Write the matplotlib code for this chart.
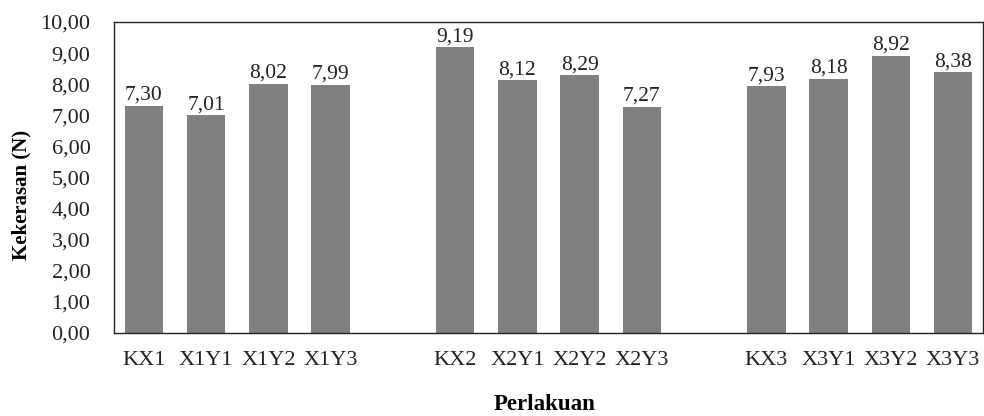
import matplotlib
matplotlib.use("Agg")
import matplotlib.pyplot as plt

# Nilai kekerasan tiap perlakuan, tiga kelompok X1, X2, X3
perlakuan = ["KX1", "X1Y1", "X1Y2", "X1Y3",
             "KX2", "X2Y1", "X2Y2", "X2Y3",
             "KX3", "X3Y1", "X3Y2", "X3Y3"]
kekerasan = [7.30, 7.01, 8.02, 7.99,
             9.19, 8.12, 8.29, 7.27,
             7.93, 8.18, 8.92, 8.38]
slot = [0, 1, 2, 3, 5, 6, 7, 8, 10, 11, 12, 13]  # satu slot kosong antar kelompok
yticks = [0, 1, 2, 3, 4, 5, 6, 7, 8, 9, 10]

plt.rcParams["font.family"] = ["Liberation Serif", "DejaVu Serif"]

fig = plt.figure(figsize=(9.84, 4.16), dpi=100)
ax = fig.add_axes([114 / 984, 1 - 333 / 416, (983 - 114) / 984, (333 - 22) / 416])

bars = ax.bar(slot, kekerasan, width=0.62, color="#808080", zorder=2)
for x, v in zip(slot, kekerasan):
    ax.text(x, v + 0.03, f"{v:.2f}".replace(".", ","), ha="center", va="bottom",
            fontsize=15.5, color="#222222")

ax.set_xlim(-0.48, 13.48)
ax.set_ylim(0, 10)
ax.set_yticks(yticks)
ax.set_yticklabels([f"{t:.2f}".replace(".", ",") for t in yticks], fontsize=16)
ax.set_xticks(slot)
ax.set_xticklabels(perlakuan, fontsize=16)
ax.tick_params(axis="both", length=0, colors="#222222")
ax.tick_params(axis="x", pad=13)
ax.tick_params(axis="y", pad=17)

for s in ax.spines.values():
    s.set_linewidth(1.0)
    s.set_color("#222222")

fig.text(21 / 984, 1 - 195 / 416, "Kekerasan (N)", rotation=90, ha="center", va="center",
         fontsize=15, fontweight="bold")
fig.text(545 / 984, 1 - 404 / 416, "Perlakuan", ha="center", va="center",
         fontsize=16.5, fontweight="bold")

fig.savefig("out.png", dpi=100)
